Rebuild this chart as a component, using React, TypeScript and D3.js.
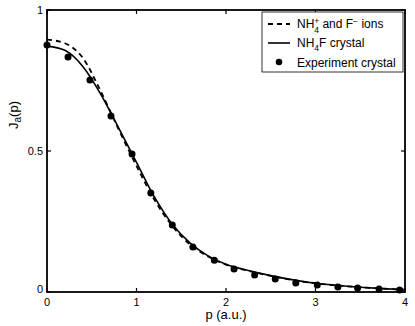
import * as d3 from 'd3';
import { useEffect, useRef } from 'react';

// momentum grid for the two curves
const pGrid = [0, 0.2, 0.4, 0.6, 0.8, 1.0, 1.2, 1.4, 1.6, 1.8, 2.0, 2.25, 2.5, 2.75, 3.0, 3.25, 3.5, 3.75, 4.0];
// NH4+ and F- ions (dashed)
const ionsJ = [0.895, 0.882, 0.83, 0.712, 0.577, 0.447, 0.327, 0.234, 0.168, 0.126, 0.097, 0.075, 0.057, 0.042, 0.031, 0.023, 0.017, 0.012, 0.008];
// NH4F crystal (solid)
const crystalJ = [0.872, 0.857, 0.80, 0.702, 0.582, 0.46, 0.337, 0.24, 0.173, 0.128, 0.098, 0.076, 0.058, 0.043, 0.031, 0.023, 0.017, 0.012, 0.008];
// experiment
const expP = [0, 0.235, 0.48, 0.715, 0.95, 1.16, 1.40, 1.63, 1.87, 2.09, 2.32, 2.55, 2.78, 3.02, 3.25, 3.47, 3.71, 3.94];
const expJ = [0.876, 0.833, 0.752, 0.624, 0.489, 0.351, 0.238, 0.16, 0.113, 0.082, 0.06, 0.046, 0.032, 0.025, 0.018, 0.014, 0.011, 0.007];

const xTicks = [0, 1, 2, 3, 4];
const yTicks = [0, 0.5, 1];

export default function App() {
  const ref = useRef<SVGSVGElement>(null);

  useEffect(() => {
    const W = 415;
    const H = 326;
    const margin = { left: 47, top: 10, right: 10, bottom: 34 };
    const w = W - margin.left - margin.right;
    const h = H - margin.top - margin.bottom;
    const font = 'Liberation Sans, Arial, sans-serif';

    const svg = d3.select(ref.current);
    svg.selectAll('*').remove();
    const g = svg.append('g').attr('transform', `translate(${margin.left},${margin.top})`);

    const x = d3.scaleLinear().domain([0, 4]).range([0, w]);
    const y = d3.scaleLinear().domain([0, 1]).range([h, 0]);

    // curves
    const line = d3.line<number>()
      .x((d, i) => x(pGrid[i]))
      .y((d) => y(d))
      .curve(d3.curveMonotoneX);

    g.append('path')
      .attr('d', line(ionsJ))
      .attr('fill', 'none')
      .attr('stroke', '#000')
      .attr('stroke-width', 1.8)
      .attr('stroke-dasharray', '5,4');

    g.append('path')
      .attr('d', line(crystalJ))
      .attr('fill', 'none')
      .attr('stroke', '#000')
      .attr('stroke-width', 1.6);

    g.selectAll('circle.exp')
      .data(expJ)
      .enter()
      .append('circle')
      .attr('class', 'exp')
      .attr('cx', (d, i) => x(expP[i]))
      .attr('cy', (d) => y(d))
      .attr('r', 3.5)
      .attr('fill', '#000');

    // frame
    g.append('rect')
      .attr('x', 0).attr('y', 0).attr('width', w).attr('height', h)
      .attr('fill', 'none').attr('stroke', '#000').attr('stroke-width', 1.8);

    // ticks (inward, all four sides)
    const tl = 4;
    xTicks.forEach((t) => {
      g.append('line').attr('x1', x(t)).attr('x2', x(t)).attr('y1', h).attr('y2', h - tl)
        .attr('stroke', '#000').attr('stroke-width', 1.2);
      g.append('line').attr('x1', x(t)).attr('x2', x(t)).attr('y1', 0).attr('y2', tl)
        .attr('stroke', '#000').attr('stroke-width', 1.2);
      g.append('text').attr('x', x(t)).attr('y', h + 14)
        .attr('text-anchor', 'middle').attr('font-family', font).attr('font-size', 11)
        .text(String(t));
    });
    yTicks.forEach((t) => {
      g.append('line').attr('x1', 0).attr('x2', tl).attr('y1', y(t)).attr('y2', y(t))
        .attr('stroke', '#000').attr('stroke-width', 1.2);
      g.append('line').attr('x1', w).attr('x2', w - tl).attr('y1', y(t)).attr('y2', y(t))
        .attr('stroke', '#000').attr('stroke-width', 1.2);
      g.append('text').attr('x', -4).attr('y', y(t) + 4 - (t === 0 ? 3 : 0))
        .attr('text-anchor', 'end').attr('font-family', font).attr('font-size', 11)
        .text(String(t));
    });

    // axis labels
    g.append('text').attr('x', x(2)).attr('y', h + 27)
      .attr('text-anchor', 'middle').attr('font-family', font).attr('font-size', 13)
      .text('p (a.u.)');

    const yl = svg.append('text')
      .attr('transform', `translate(18,${margin.top + 105}) rotate(-90)`)
      .attr('text-anchor', 'middle').attr('font-family', font).attr('font-size', 13);
    yl.append('tspan').text('J');
    yl.append('tspan').attr('dy', 3).attr('font-size', 10).text('a');
    yl.append('tspan').attr('dy', -3).text('(p)');

    // legend
    const lx = 262 - margin.left;
    const ly = 12 - margin.top;
    const leg = g.append('g').attr('transform', `translate(${lx},${ly})`);
    leg.append('rect').attr('x', 0).attr('y', 0).attr('width', 141).attr('height', 60)
      .attr('fill', '#fff').attr('stroke', '#000').attr('stroke-width', 0.8);

    const rows = [12, 31, 50];
    const fs = 12;
    leg.append('line').attr('x1', 6).attr('x2', 28).attr('y1', rows[0]).attr('y2', rows[0])
      .attr('stroke', '#000').attr('stroke-width', 1.8).attr('stroke-dasharray', '5,4');
    leg.append('line').attr('x1', 6).attr('x2', 28).attr('y1', rows[1]).attr('y2', rows[1])
      .attr('stroke', '#000').attr('stroke-width', 1.6);
    leg.append('circle').attr('cx', 17).attr('cy', rows[2]).attr('r', 3.3).attr('fill', '#000');

    const t1 = leg.append('text').attr('x', 35).attr('y', rows[0] + 4)
      .attr('font-family', font).attr('font-size', fs);
    t1.append('tspan').text('NH');
    t1.append('tspan').attr('dy', -4).attr('font-size', 8.5).text('+');
    t1.append('tspan').attr('dx', -5).attr('dy', 9).attr('font-size', 8.5).text('4');
    t1.append('tspan').attr('dy', -5).text(' and F');
    t1.append('tspan').attr('dy', -4).attr('font-size', 8.5).text('\u2212');
    t1.append('tspan').attr('dy', 4).text(' ions');

    const t2 = leg.append('text').attr('x', 35).attr('y', rows[1] + 4)
      .attr('font-family', font).attr('font-size', fs);
    t2.append('tspan').text('NH');
    t2.append('tspan').attr('dy', 4).attr('font-size', 8.5).text('4');
    t2.append('tspan').attr('dy', -4).text('F crystal');

    leg.append('text').attr('x', 35).attr('y', rows[2] + 4.5)
      .attr('font-family', font).attr('font-size', fs).text('Experiment crystal');
  }, []);

  return (
    <svg
      ref={ref}
      width={415}
      height={326}
      style={{ position: 'absolute', left: 0, top: 0, background: '#fff' }}
    />
  );
}
